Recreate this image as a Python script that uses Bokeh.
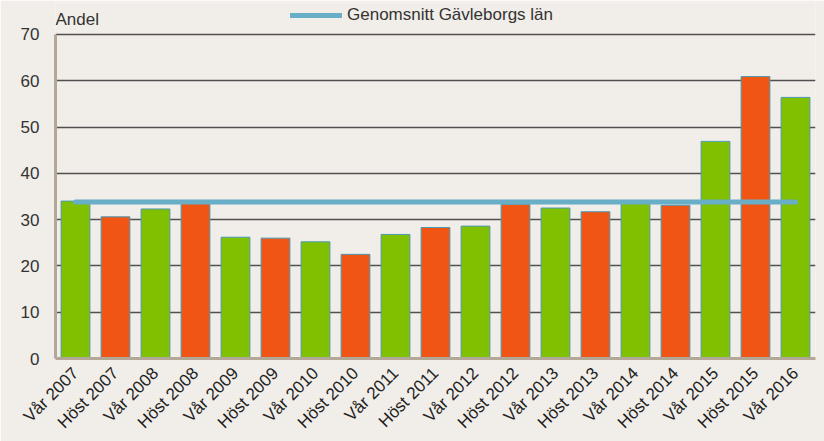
from bokeh.plotting import figure
from bokeh.models import FactorRange, Legend, LegendItem, ColumnDataSource, Label
from bokeh.embed import file_html
from bokeh.resources import INLINE
from math import pi

categories = ["Vår 2007", "Höst 2007", "Vår 2008", "Höst 2008", "Vår 2009", "Höst 2009",
              "Vår 2010", "Höst 2010", "Vår 2011", "Höst 2011", "Vår 2012", "Höst 2012",
              "Vår 2013", "Höst 2013", "Vår 2014", "Höst 2014", "Vår 2015", "Höst 2015",
              "Vår 2016"]
values = [34.0, 30.6, 32.3, 33.5, 26.2, 26.0, 25.2, 22.5, 26.8, 28.3, 28.6, 33.3,
          32.5, 31.7, 33.6, 33.1, 46.9, 60.9, 56.4]
average = 33.8
y_ticks = [0, 10, 20, 30, 40, 50, 60, 70]

GREEN = "#80C000"
ORANGE = "#F05514"
colors = [GREEN if c.startswith("Vår") else ORANGE for c in categories]

BG = "#F1EDE8"
FONT = "Liberation Sans"

p = figure(x_range=FactorRange(factors=categories, range_padding=0),
           y_range=(0, 76.9), width=824, height=441,
           output_backend="svg", toolbar_location=None,
           min_border_left=55, min_border_right=9, min_border_top=2,
           min_border_bottom=83)
p.background_fill_color = BG
p.border_fill_color = BG
p.outline_line_color = None

src = ColumnDataSource(dict(x=categories, top=values, color=colors))
p.vbar(x="x", top="top", width=0.72, source=src, fill_color="color",
       line_color="#4A9AB5", line_width=1)

line_r = p.line(x=[categories[0], categories[-1]], y=[average, average],
                line_color="#68AEC6", line_width=5, line_cap="round")

p.add_layout(Label(x=0, y=339, x_units="screen", y_units="screen", text="Andel",
                   text_font=FONT, text_font_size="17px", text_color="#333333",
                   text_align="left", text_baseline="alphabetic"))

p.yaxis.ticker = y_ticks
p.yaxis.bounds = (0, 70)
p.yaxis.axis_line_color = "#B3A898"
p.yaxis.axis_line_width = 3
p.yaxis.major_tick_line_color = None
p.yaxis.minor_tick_line_color = None
p.yaxis.major_label_text_font = FONT
p.yaxis.major_label_text_font_size = "17px"
p.yaxis.major_label_text_color = "#333333"
p.yaxis.major_label_standoff = 10

p.xaxis.axis_line_color = "#B3A898"
p.xaxis.axis_line_width = 3
p.xaxis.major_tick_line_color = None
p.xaxis.minor_tick_line_color = None
p.xaxis.major_label_orientation = pi / 4
p.xaxis.major_label_text_font = FONT
p.xaxis.major_label_text_font_size = "17px"
p.xaxis.major_label_text_color = "#222222"
p.xaxis.major_label_standoff = 6

p.xgrid.grid_line_color = None
p.ygrid.grid_line_color = "#505050"
p.ygrid.grid_line_width = 1.5

legend = Legend(items=[LegendItem(label="Genomsnitt Gävleborgs län", renderers=[line_r])],
                location=(235, 333), orientation="horizontal")
legend.glyph_width = 52
legend.glyph_height = 20
legend.label_height = 20
legend.label_standoff = 5
legend.label_text_font = FONT
legend.label_text_font_size = "17px"
legend.label_text_color = "#333333"
legend.padding = 0
legend.margin = 0
legend.border_line_color = None
legend.background_fill_alpha = 0
p.add_layout(legend, "center")

open("out.html", "w").write(file_html(p, INLINE))
